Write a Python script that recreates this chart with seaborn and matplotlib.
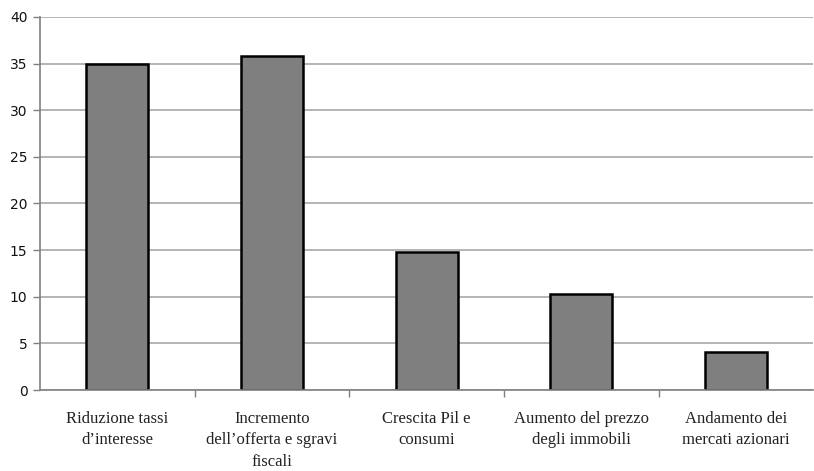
import matplotlib
matplotlib.use("Agg")
import matplotlib.pyplot as plt
import seaborn as sns
import pandas as pd
from matplotlib.ticker import FixedLocator

categories = ["Riduzione tassi\nd\u2019interesse",
              "Incremento\ndell\u2019offerta e sgravi\nfiscali",
              "Crescita Pil e\nconsumi",
              "Aumento del prezzo\ndegli immobili",
              "Andamento dei\nmercati azionari"]
values = [35.0, 35.8, 14.8, 10.3, 4.1]

df = pd.DataFrame({"cat": categories, "val": values})

sns.set_theme(style="white")
fig = plt.figure(figsize=(8.14, 4.71), dpi=100)
ax = fig.add_axes([40/814, 81/471, 1 - 40/814 - 0.001, (390-17)/471])

sns.barplot(data=df, x="cat", y="val", color="#7f7f7f", saturation=1,
            edgecolor="black", linewidth=1.8, width=0.4, ax=ax)

ax.set_xlim(-0.5, 4.5)
ax.set_ylim(0, 40)
ax.set_yticks(range(0, 41, 5))
ax.yaxis.grid(True, color="#a8a8a8", linewidth=1.2)
ax.set_axisbelow(True)
ax.set_xlabel("")
ax.set_ylabel("")

for s in ["top", "right"]:
    ax.spines[s].set_visible(False)
for s in ["left", "bottom"]:
    ax.spines[s].set_color("#808080")
    ax.spines[s].set_linewidth(1.2)

ax.tick_params(axis="y", left=True, length=5, width=1, color="#808080",
               labelsize=10, pad=4)
for lab in ax.get_yticklabels():
    lab.set_family("DejaVu Sans")
    lab.set_color("#111111")
ax.tick_params(axis="x", which="major", bottom=False, labelsize=12, pad=9)
ax.xaxis.set_minor_locator(FixedLocator([0.5, 1.5, 2.5, 3.5]))
ax.tick_params(axis="x", which="minor", bottom=True, length=5, width=1, color="#808080")
for lab in ax.get_xticklabels():
    lab.set_family(["Liberation Serif", "DejaVu Serif"])
    lab.set_fontsize(12)
    lab.set_color("#222222")
    lab.set_linespacing(1.45)

fig.savefig("out.png", dpi=100)
